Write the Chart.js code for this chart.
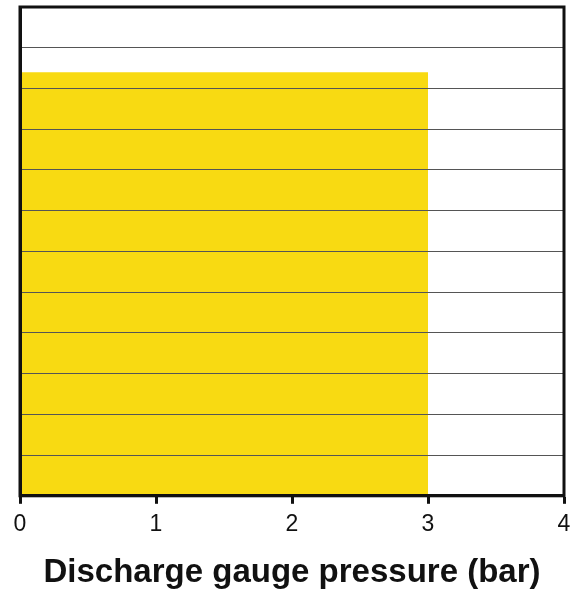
<!DOCTYPE html>
<html>
<head>
<meta charset="utf-8">
<script src="https://cdn.jsdelivr.net/npm/chart.js@4"></script>
<style>
  html, body { margin: 0; padding: 0; background: #fff; }
  #wrap { width: 578px; height: 593px; }
</style>
</head>
<body>
<div id="wrap"><canvas id="chart"></canvas></div>
<script>
// pressure range covered by the yellow block (bar) and its height (grid units)
const pressures = [0, 3];
const levels = [10.4, 10.4];
const xTicks = [0, 1, 2, 3, 4];
const xTitle = "Discharge gauge pressure (bar)";

// outline round the plot area
const frame = {
  id: "frame",
  afterDraw(chart) {
    const { ctx, chartArea: a } = chart;
    ctx.save();
    ctx.strokeStyle = "#111";
    ctx.lineWidth = 3;
    ctx.strokeRect(a.left, a.top, a.right - a.left, a.bottom - a.top);
    ctx.restore();
  }
};

new Chart(document.getElementById("chart"), {
  type: "line",
  data: {
    datasets: [{
      data: pressures.map((p, i) => ({ x: p, y: levels[i] })),
      fill: "origin",
      backgroundColor: "#f8da12",
      borderWidth: 0,
      pointRadius: 0,
    }],
  },
  options: {
    responsive: true,
    maintainAspectRatio: false,
    animation: false,
    layout: { padding: { left: 20, top: 7, right: 14, bottom: 0 } },
    plugins: {
      legend: { display: false },
      tooltip: { enabled: false },
      // fill first so the grid lines sit on top of the yellow block
      filler: { drawTime: "beforeDraw" },
    },
    scales: {
      x: {
        type: "linear",
        min: 0,
        max: 4,
        afterBuildTicks: (s) => { s.ticks = xTicks.map((v) => ({ value: v })); },
        grid: {
          drawOnChartArea: false,
          tickLength: 8,
          tickWidth: 3,
          tickColor: "#111",
        },
        border: { color: "#111", width: 3 },
        ticks: {
          color: "#111",
          font: { family: "Liberation Sans", size: 23 },
          padding: 7,
        },
        title: {
          display: true,
          text: xTitle,
          color: "#111",
          font: { family: "Liberation Sans", size: 33, weight: "bold" },
          padding: { top: 8, bottom: 0 },
        },
      },
      y: {
        min: 0,
        max: 12,
        ticks: { display: false, stepSize: 1 },
        grid: { color: "#555", lineWidth: 1, drawTicks: false },
        border: { color: "#111", width: 3 },
      },
    },
  },
  plugins: [frame],
});
</script>
</body>
</html>
